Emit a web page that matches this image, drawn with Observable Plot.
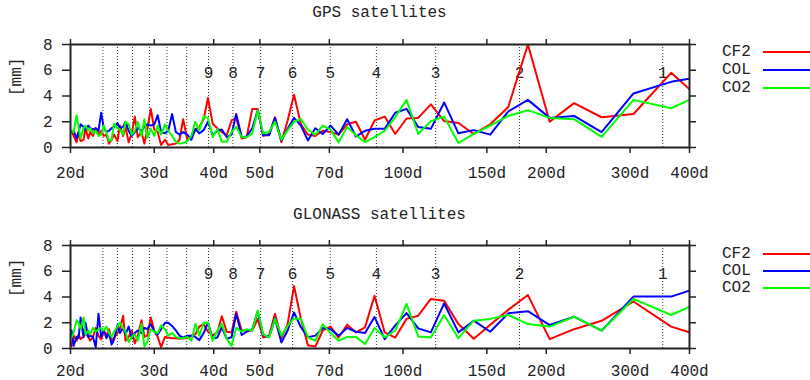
<!DOCTYPE html>
<html><head><meta charset="utf-8">
<script src="https://cdn.jsdelivr.net/npm/d3@7"></script>
<script src="https://cdn.jsdelivr.net/npm/@observablehq/plot@0.6"></script>
<style>
body{margin:0;background:#fff;}
#wrap{position:relative;width:810px;height:380px;font-family:"Liberation Mono",monospace;color:#222;overflow:hidden;}
.panel{position:absolute;left:0;width:810px;height:190px;}
.title{position:absolute;left:0;width:759px;text-align:center;font-size:16px;line-height:16px;}
.leg{position:absolute;left:722px;font-size:16px;line-height:16px;}
.sw{position:absolute;left:763px;width:47px;height:2px;}
</style>
</head><body>
<div id="wrap"></div>
<script>
// periods of the frequency grid (days)
const periods = [457.5,366,305,261.4,228.8,203.3,183,166.4,152.5,140.8,130.7,122,114.4,107.6,101.7,96.3,91.5,87.1,83.2,79.6,76.3,73.2,70.4,67.8,65.4,63.1,61,59,57.2,55.5,53.8,52.3,50.8,49.5,48.2,46.9,45.8,44.6,43.6,42.6,41.6,40.7,39.8,38.9,38.1,37.3,36.6,35.9,35.2,34.5,33.9,33.3,32.7,32.1,31.6,31,30.5,30,29.5,29,28.6,28.2,27.7,27.3,26.9,26.5,26.1,25.8,25.4,25.1,24.7,24.4,24.1,23.8,23.5,23.2,22.9,22.6,22.3,22,21.8,21.5,21.3,21,20.8,20.6,20.3,20.1];

const seriesNames = ["CF2", "COL", "CO2"];
const seriesColors = ["#ff0000", "#0000ff", "#00ff00"];

const gpsCF2 = [2.6,5.8,2.6,2.35,3.45,2.0,8.0,3.15,1.8,1.05,1.9,2.05,3.35,2.3,2.25,1.05,2.4,2.1,0.6,2.0,1.8,1.0,1.2,1.3,0.9,1.0,1.8,4.1,2.1,0.4,2.35,1.05,0.9,3.0,3.0,0.8,0.7,2.3,2.1,0.95,1.2,1.5,1.85,3.85,2.2,1.6,
  1.4,0.8,0.6,2.2,0.6,0.3,0.25,0.2,0.6,0.2, 1.2,1.4,3.0,1.4,0.3,1.2,0.8,2.4,1.1,0.4, 1.6,0.9,1.7,0.5,1.0,0.6,0.3,1.0,0.9,1.3, 1.0,1.5,0.9,1.2,0.7,1.5,0.6,0.5,1.2,0.4, 0.9,1.3];
const gpsCOL = [5.7,5.1,4.2,1.2,2.45,2.3,3.7,2.8,1.0,1.35,1.1,3.5,1.45,1.6,3.0,2.7,1.45,1.45,1.3,0.85,2.2,1.0,1.7,1.05,1.5,0.55,1.7,2.3,1.45,0.55,2.3,0.95,0.95,2.9,1.5,0.85,0.8,2.6,1.0,0.8,1.4,1.3,0.95,2.0,1.35,1.1,
  1.45,0.6,1.0,1.2,1.0,1.2,2.6,1.3,1.1,1.2, 2.5,1.8,1.7,1.8,1.6,1.3,1.5,1.2,0.9,1.3, 2.0,1.6,1.5,1.9,1.6,1.5,1.3,1.2,1.5,2.7, 1.3,1.5,1.4,1.5,1.7,1.4,1.6,1.8,1.2,0.7, 1.3,1.2];
const gpsCO2 = [4.7,3.05,3.7,0.83,2.2,2.3,2.9,2.45,1.7,1.05,0.35,2.4,2.05,1.05,3.7,2.35,1.3,0.8,0.42,0.95,1.6,0.4,1.4,1.7,1.0,1.4,2.2,2.0,1.35,0.6,2.0,1.2,1.1,2.9,1.1,0.8,0.8,1.6,1.2,0.45,0.45,1.45,0.8,2.3,2.4,1.35,
  2.0,0.9,0.5,0.35,0.3,0.45,0.9,1.3,1.8,1.0, 1.7,0.9,1.45,0.75,2.2,0.9,2.0,1.3,1.0,1.8, 2.0,1.0,1.4,1.5,1.85,0.6,0.5,1.2,1.7,1.0, 0.9,1.3,1.1,1.5,1.3,1.7,1.5,0.7,1.6,2.5, 1.2,1.3];

const gloCF2 = [0.6,1.7,3.65,2.15,1.5,0.73,4.15,3.0,1.85,0.75,1.9,3.7,3.85,2.55,2.3,0.85,1.25,4.1,1.65,1.25,1.85,0.85,1.7,1.4,0.15,0.25,2.3,4.85,1.9,0.8,2.7,1.0,0.85,2.3,1.4,1.4,1.4,2.85,1.25,1.3,2.5,1.25,1.0,1.3,1.9,1.7,
  1.1,1.0,0.8,0.8,0.75,0.8,0.8,0.85,0.9,0.1, 0.9,1.4,2.4,1.0,0.9,2.2,1.0,0.4,1.4,0.9, 0.6,2.55,1.5,1.2,0.85,0.6,1.5,1.0,1.4,0.7, 1.0,1.6,0.9,0.6,0.9,1.2,0.9,0.75,1.1,0.6, 1.0,0.2];
const gloCOL = [5.2,4.03,4.03,1.38,2.47,1.82,2.9,2.73,1.3,2.16,1.25,3.5,1.25,1.56,2.75,1.8,0.73,2.45,1.2,1.3,1.6,1.0,1.5,1.6,1.0,0.87,1.65,2.8,1.4,0.47,2.35,0.87,1.05,2.9,1.5,1.3,1.05,2.7,0.87,0.75,1.65,0.85,0.75,2.0,1.2,0.65,
  0.9,1.0,1.0,0.85,1.0,1.4,1.75,2.0,2.0,1.5, 1.1,1.3,1.9,1.5,1.6,1.2,1.4,1.2,0.8,1.7, 1.1,1.6,1.2,1.8,0.7,0.3,1.2,0.8,1.4,0.9, 2.7,0.1,0.9,1.0,0.9,2.0,0.9,2.4,0.8,0.9, 0.2,1.4];
const gloCO2 = [4.2,2.6,3.85,1.38,2.47,1.7,1.9,2.6,2.3,2.16,0.8,2.6,0.86,0.94,3.46,1.4,0.87,1.6,0.35,0.9,0.9,0.6,1.2,1.9,0.6,0.87,2.3,2.35,1.75,1.0,2.3,0.87,1.1,2.95,1.4,1.5,1.3,1.6,0.2,0.75,1.9,1.4,0.6,2.0,2.0,1.0,
  1.9,0.6,0.9,0.8,0.8,0.9,1.2,1.0,1.5,1.8, 1.2,1.3,1.5,0.5,0.15,1.9,0.6,1.1,0.9,0.5, 1.3,1.6,2.0,1.7,1.3,0.9,1.2,1.7,1.4,1.6, 1.5,1.3,1.6,1.1,1.4,1.1,2.4,1.5,2.0,2.2, 1.2,0.85];

// GPS draconitic harmonics (days) and their labels
const harmonicPeriods = [351.4,175.7,117.1,87.9,70.3,58.6,50.2,43.9,39.0,35.1,31.9,29.3,27.0,25.1,23.4];
const harmonicLabels = ["1","2","3","4","5","6","7","8","9"];

const xTicks = [20,30,40,50,70,100,150,200,300,400];
const yTicks = [0,2,4,6,8];

const titles = ["GPS satellites", "GLONASS satellites"];

function makePanel(cf2, col, co2, mt, mb, pad) {
  const rows = [];
  [cf2, col, co2].forEach((vals, s) => vals.forEach((v, i) => {
    if (i < periods.length) rows.push({period: periods[i], value: v, series: seriesNames[s]});
  }));
  const labs = harmonicLabels.map((t, i) => ({period: harmonicPeriods[i], label: t}));
  return Plot.plot({
    width: 810, height: 190,
    marginLeft: 70, marginRight: 121, marginTop: mt, marginBottom: mb,
    style: {fontFamily: '"Liberation Mono", monospace', fontSize: "16px", color: "#222", background: "white"},
    x: {type: "log", domain: [20, 400]},
    y: {domain: [0, 8]},
    color: {domain: seriesNames, range: seriesColors},
    marks: [
      Plot.ruleX(harmonicPeriods, {stroke: "#333", strokeWidth: 1, strokeDasharray: "1,2"}),
      Plot.text(labs, {x: "period", text: "label", frameAnchor: "top", dy: 22, fill: "#222"}),
      Plot.line(rows, {x: "period", y: "value", z: "series", stroke: "series", strokeWidth: 2, clip: true}),
      Plot.axisX({ticks: xTicks, tickFormat: d => d + "d", tickSize: 6, tickPadding: pad, strokeWidth: 1.5, label: null}),
      Plot.axisX({anchor: "top", ticks: xTicks, tickFormat: () => "", tickSize: 6, strokeWidth: 1.5, label: null}),
      Plot.axisY({ticks: yTicks, tickSize: 8, tickPadding: 10, strokeWidth: 1.5, label: null}),
      Plot.axisY({anchor: "right", ticks: yTicks, tickFormat: () => "", tickSize: 6, strokeWidth: 1.5, label: null}),
      Plot.frame({stroke: "#222", strokeWidth: 2}),
      Plot.text(["[mm]"], {text: d => d, frameAnchor: "left", dx: -55, rotate: -90, fill: "#222"})
    ]
  });
}

const wrap = document.getElementById("wrap");
const panels = [
  {svg: makePanel(gpsCF2, gpsCOL, gpsCO2, 44, 43, 13), top: 0, titleTop: 5, legY: [52.3, 70, 87.5]},
  {svg: makePanel(gloCF2, gloCOL, gloCO2, 55, 32, 10), top: 190, titleTop: 207, legY: [253.5, 271, 288]}
];
panels.forEach((p, j) => {
  const d = document.createElement("div");
  d.className = "panel";
  d.style.top = p.top + "px";
  d.appendChild(p.svg);
  wrap.appendChild(d);
  const t = document.createElement("div");
  t.className = "title";
  t.style.top = p.titleTop + "px";
  t.textContent = titles[j];
  wrap.appendChild(t);
  seriesNames.forEach((name, s) => {
    const l = document.createElement("div");
    l.className = "leg";
    l.style.top = (p.legY[s] - 8) + "px";
    l.textContent = name;
    wrap.appendChild(l);
    const w = document.createElement("div");
    w.className = "sw";
    w.style.top = (p.legY[s] - 1) + "px";
    w.style.background = seriesColors[s];
    wrap.appendChild(w);
  });
});
</script>
</body></html>
